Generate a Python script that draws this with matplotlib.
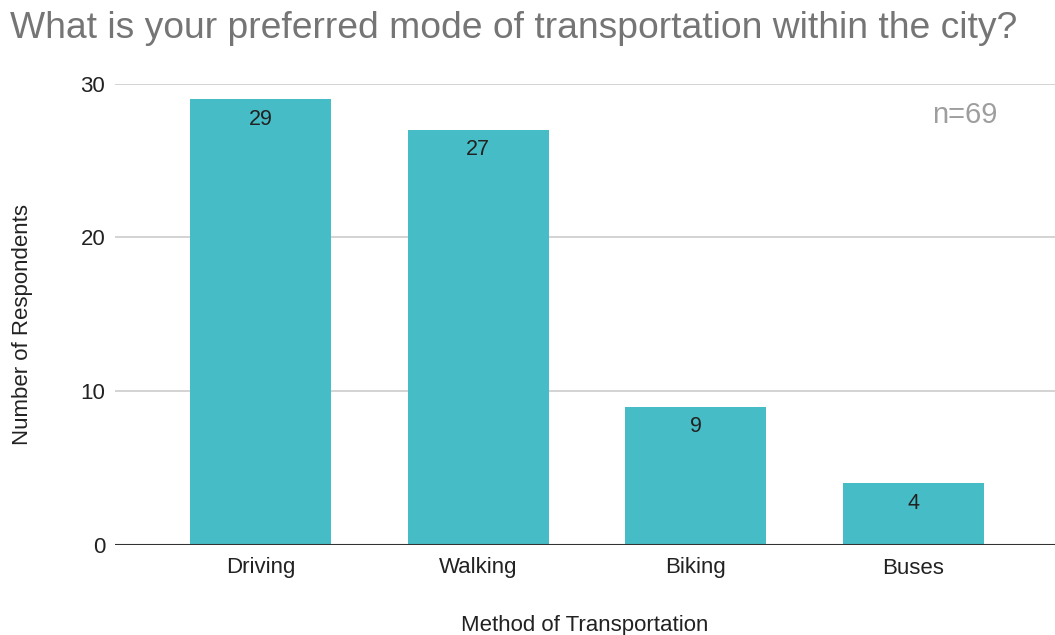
import matplotlib.pyplot as plt

plt.rcParams['font.family'] = ['Liberation Sans', 'DejaVu Sans']

# survey answers
modes = ["Driving", "Walking", "Biking", "Buses"]
counts = [29, 27, 9, 4]
n_total = 69

fig = plt.figure(figsize=(10.55, 6.35), dpi=100)
ax = fig.add_axes([115 / 1055, 1 - 545 / 635, 940 / 1055, (545 - 83.6) / 635])

x = range(len(modes))
bars = ax.bar(x, counts, width=0.648, color="#46BDC6", zorder=3)

# value labels just below the top of each bar
for xi, c in zip(x, counts):
    ax.annotate(str(c), (xi, c), xytext=(0, -7), textcoords="offset points",
                ha="center", va="top", fontsize=15.5, color="#222222", zorder=4)

ax.set_xlim(-0.668, 3.65)
ax.set_ylim(0, 30)
ax.set_yticks([0, 10, 20, 30])
ax.set_xticks(list(x))
ax.set_xticklabels(modes)
ax.tick_params(axis="both", length=0, labelsize=16, colors="#222222")
ax.tick_params(axis="y", pad=7)
ax.tick_params(axis="x", pad=9)

ax.grid(axis="y", color="#cccccc", linewidth=1.2, zorder=0)
ax.axhline(0, color="#333333", linewidth=1.5, zorder=5)
for s in ax.spines.values():
    s.set_visible(False)

ax.set_ylabel("Number of Respondents", fontsize=16, color="#222222")
ax.yaxis.set_label_coords(-0.087, 0.477)
ax.set_xlabel("Method of Transportation", fontsize=16, color="#222222", labelpad=26)

fig.text(10 / 1055, 1 - 29 / 635, "What is your preferred mode of transportation within the city?",
         fontsize=26.8, color="#757575", ha="left", va="center")
ax.text(0.904, 0.931, "n=%d" % n_total, transform=ax.transAxes, fontsize=21,
        color="#9e9e9e", ha="center", va="center")

fig.savefig("out.png", dpi=100)
